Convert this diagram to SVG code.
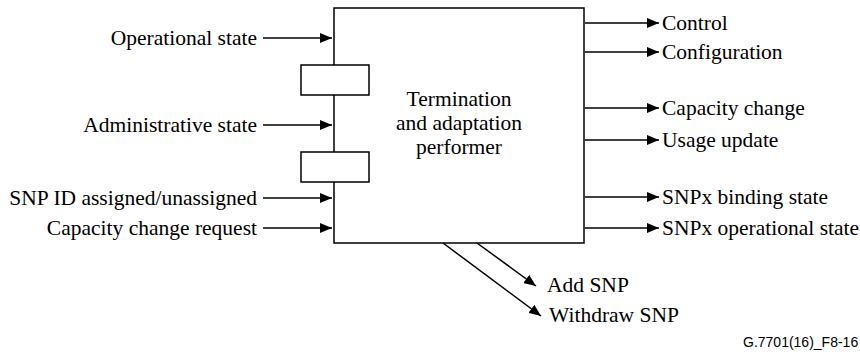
<svg xmlns="http://www.w3.org/2000/svg" width="860" height="358" viewBox="0 0 860 358">
<style>
.t{font-family:"Liberation Serif","Times New Roman",serif;font-size:21.5px;fill:#000}
.e{text-anchor:end}
.m{text-anchor:middle}
.c{font-family:"Liberation Sans",Arial,sans-serif;font-size:14px;fill:#000}
.b{fill:#fff;stroke:#000;stroke-width:1.5}
.l{stroke:#000;stroke-width:1.5;fill:none}
</style>
<defs>
<marker id="ah" markerWidth="12" markerHeight="10" refX="12" refY="5" orient="auto" markerUnits="userSpaceOnUse">
<path d="M0,0 L12,5 L0,10 Z" fill="#000"/>
</marker>
</defs>
<rect width="860" height="358" fill="#fff"/>
<g id="connectors">
<line class="l" x1="263" y1="38" x2="332" y2="38" marker-end="url(#ah)"/>
<line class="l" x1="263" y1="125" x2="332" y2="125" marker-end="url(#ah)"/>
<line class="l" x1="263" y1="198" x2="332" y2="198" marker-end="url(#ah)"/>
<line class="l" x1="263" y1="228" x2="332" y2="228" marker-end="url(#ah)"/>
<line class="l" x1="585" y1="23" x2="659" y2="23" marker-end="url(#ah)"/>
<line class="l" x1="585" y1="52" x2="659" y2="52" marker-end="url(#ah)"/>
<line class="l" x1="585" y1="108" x2="659" y2="108" marker-end="url(#ah)"/>
<line class="l" x1="585" y1="140" x2="659" y2="140" marker-end="url(#ah)"/>
<line class="l" x1="585" y1="197" x2="659" y2="197" marker-end="url(#ah)"/>
<line class="l" x1="585" y1="228" x2="659" y2="228" marker-end="url(#ah)"/>
<line class="l" x1="477" y1="243" x2="536" y2="286" marker-end="url(#ah)"/>
<line class="l" x1="443" y1="243" x2="541" y2="316" marker-end="url(#ah)"/>
</g>
<g id="performer">
<rect class="b" x="334" y="8" width="250" height="235"/>
<text class="t m" x="459" y="106">Termination</text>
<text class="t m" x="459" y="130">and adaptation</text>
<text class="t m" x="459" y="154">performer</text>
</g>
<g id="port1"><rect class="b" x="301" y="65" width="68" height="30"/></g>
<g id="port2"><rect class="b" x="301" y="152" width="68" height="30"/></g>
<g id="inputs">
<text class="t e" x="257" y="45">Operational state</text>
<text class="t e" x="257" y="132">Administrative state</text>
<text class="t e" x="257" y="205">SNP ID assigned/unassigned</text>
<text class="t e" x="257" y="235">Capacity change request</text>
</g>
<g id="outputs">
<text class="t" x="662" y="30">Control</text>
<text class="t" x="662" y="59">Configuration</text>
<text class="t" x="662" y="115">Capacity change</text>
<text class="t" x="662" y="147">Usage update</text>
<text class="t" x="662" y="204">SNPx binding state</text>
<text class="t" x="662" y="235">SNPx operational state</text>
<text class="t" x="547" y="292">Add SNP</text>
<text class="t" x="549" y="322">Withdraw SNP</text>
</g>
<text class="c" x="743" y="347">G.7701(16)_F8-16</text>
</svg>
